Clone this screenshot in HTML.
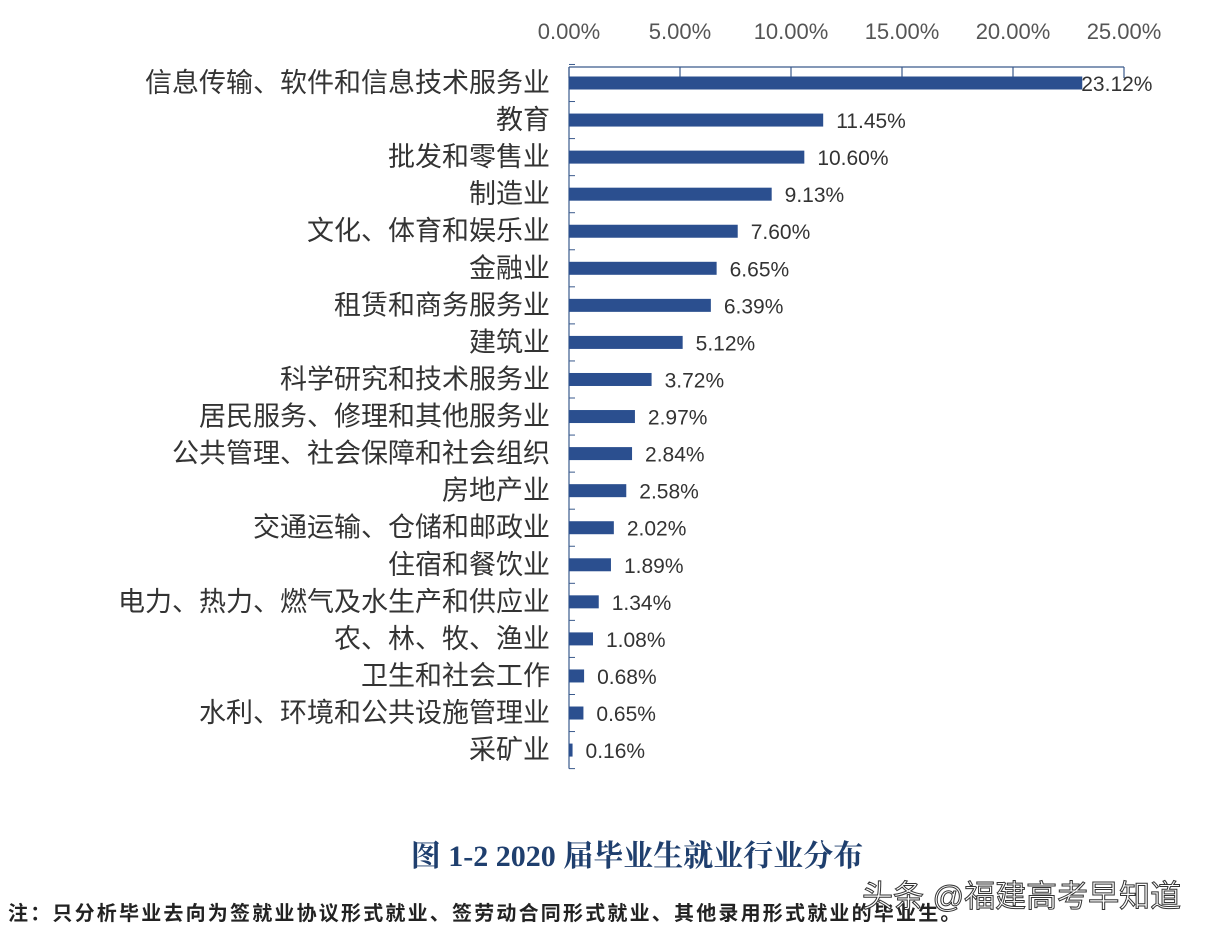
<!DOCTYPE html>
<html><head><meta charset="utf-8"><style>
body{margin:0;background:#fff;}
svg{display:block;}
</style></head><body>
<svg id="chart" width="1206" height="938" xmlns="http://www.w3.org/2000/svg">
<g id="axes"></g>
<g id="bars"></g>
<text x="637" y="866" text-anchor="middle" font-family="'Liberation Serif','Noto Serif CJK SC',serif" font-weight="bold" font-size="30" fill="#1f3f6e">图 1-2 2020 届毕业生就业行业分布</text>
<text x="8" y="920" font-family="'Liberation Sans','Noto Sans CJK SC',sans-serif" font-weight="bold" font-size="20" letter-spacing="2.2" fill="#222">注：只分析毕业去向为签就业协议形式就业、签劳动合同形式就业、其他录用形式就业的毕业生。</text>
<text x="862" y="907" font-family="'Liberation Sans','Noto Sans CJK SC',sans-serif" font-size="31" fill="#fff" stroke="#333" stroke-width="1">头条 @福建高考早知道</text>
</svg>
<script>
const categories=["信息传输、软件和信息技术服务业","教育","批发和零售业","制造业","文化、体育和娱乐业","金融业","租赁和商务服务业","建筑业","科学研究和技术服务业","居民服务、修理和其他服务业","公共管理、社会保障和社会组织","房地产业","交通运输、仓储和邮政业","住宿和餐饮业","电力、热力、燃气及水生产和供应业","农、林、牧、渔业","卫生和社会工作","水利、环境和公共设施管理业","采矿业"];
const values=[23.12,11.45,10.60,9.13,7.60,6.65,6.39,5.12,3.72,2.97,2.84,2.58,2.02,1.89,1.34,1.08,0.68,0.65,0.16];
const ticks=[0,5,10,15,20,25];
const NS="http://www.w3.org/2000/svg";
const x0=569,pxPer=22.2,top0=67,rowH=37.06,first=83;
const xs=v=>x0+v*pxPer;
const ys=i=>first+i*rowH;
function mk(tag,attrs,parent){const e=document.createElementNS(NS,tag);for(const k in attrs)e.setAttribute(k,attrs[k]);parent.appendChild(e);return e;}
const axes=document.getElementById('axes'),bars=document.getElementById('bars');
const F="'Liberation Sans','Noto Sans CJK SC',sans-serif";
let l=mk('line',{x1:x0,y1:top0,x2:xs(25),y2:top0,stroke:'#3a5a8c','stroke-width':1.2},axes);


ticks.forEach(t=>{
 let tk=mk('line',{x1:xs(t),y1:top0,x2:xs(t),y2:top0+11,stroke:'#3a5a8c','stroke-width':1.2},axes);
 
 
 let tx=mk('text',{x:xs(t),y:39,'text-anchor':'middle','font-family':F,'font-size':22,fill:'#555'},axes);
 tx.textContent=t.toFixed(2)+'%';
 
 
});
let ya=mk('line',{x1:x0,y1:top0,x2:x0,y2:ys(values.length-1)+rowH/2,stroke:'#3a5a8c','stroke-width':1.2},axes);


for(let i=0;i<=values.length;i++){
 let yy=ys(i)-rowH/2;
 let tk=mk('line',{x1:x0,y1:yy,x2:x0+6,y2:yy,stroke:'#3a5a8c','stroke-width':1},axes);
 
 
}
categories.forEach((c,i)=>{
 let y=ys(i);
 let r=mk('rect',{x:x0,y:y-6.5,width:xs(values[i])-x0,height:13,fill:'#2b4f8f'},bars);
 
 
 let lb=mk('text',{x:550,y:y+9,'text-anchor':'end','font-family':F,'font-size':27,fill:'#333'},bars);
 lb.textContent=c;
 
 
 let vl=mk('text',{x:xs(values[i])+(i==0?-1:13),y:y+8,'font-family':F,'font-size':21,fill:'#333'},bars);
 vl.textContent=values[i].toFixed(2)+'%';
 
 
});
</script>
</body></html>
